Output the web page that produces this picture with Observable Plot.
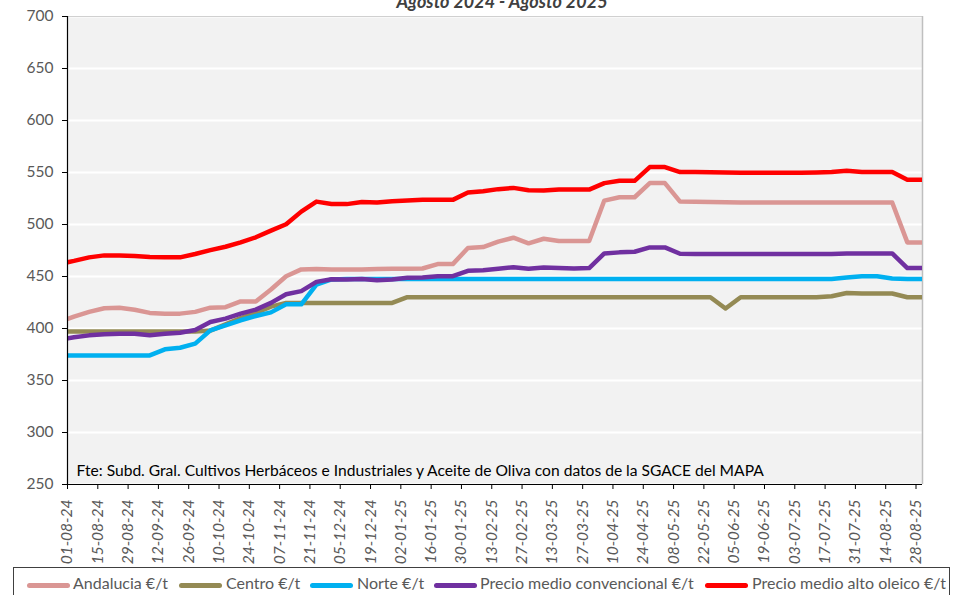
<!DOCTYPE html>
<html><head><meta charset="utf-8">
<script src="https://cdn.jsdelivr.net/npm/d3@7"></script>
<script src="https://cdn.jsdelivr.net/npm/@observablehq/plot@0.6"></script>
<style>
body{margin:0;background:#fff;width:970px;height:595px;overflow:hidden;position:relative;font-family:Lato,"Noto Sans",sans-serif;}
#title{position:absolute;top:-10px;left:0;width:1004px;text-align:center;font-weight:bold;font-style:italic;font-size:18px;color:#404040;}
#chart{position:absolute;top:0;left:0;}
#legend{position:absolute;left:13px;top:567px;width:937px;height:40px;border:1px solid #404040;box-sizing:border-box;}
.sw{position:absolute;top:15px;width:43px;height:5px;border-radius:3px;}
.lt{position:absolute;top:5px;font-size:16px;color:#595959;white-space:nowrap;}
#chart svg g[aria-label="x-axis tick label"], #chart svg g[aria-label="x-axis tick label"] text{font-style:italic;}
</style></head>
<body>
<div id="title">Agosto 2024 - Agosto 2025</div>
<div id="chart"></div>
<div id="legend"></div>
<script>
// Weekly observation dates (Sundays) 28-07-24 .. 31-08-25
const weeks = d3.utcSunday.range(new Date(Date.UTC(2024, 6, 28)), new Date(Date.UTC(2025, 8, 1)));

const andalucia = [406, 411.5, 416, 419.5, 420, 418, 415, 414.3, 414.3, 416, 420, 420.5, 426, 426, 437.5, 450.3, 456.8, 457.1, 456.8, 456.8,
  456.8, 457.1, 457.4, 457.4, 457.7, 461.9, 461.9, 477.4, 478.3, 483.5, 487.3, 481.9, 486.3, 484.1, 484.1, 484.1, 523, 526.2, 526.2, 539.8,
  539.8, 522, 521.8, 521.6, 521.3, 521.1, 521.1, 521.1, 521.1, 521.1, 521.1, 521.1, 521.1, 521.1, 521.1, 521.1, 482.8, 482.8];
const centro = [397, 397, 397, 397, 397, 397, 397, 397, 397, 397, 398, 404, 410, 415, 421, 424.6, 424.6, 424.6, 424.6, 424.6,
  424.6, 424.6, 424.6, 430.1, 430.1, 430.1, 430.1, 430.1, 430.1, 430.1, 430.1, 430.1, 430.1, 430.1, 430.1, 430.1, 430.1, 430.1, 430.1, 430.1,
  430.1, 430.1, 430.1, 430.1, 419.2, 430.1, 430.1, 430.1, 430.1, 430.1, 430.1, 431, 434.2, 433.6, 433.6, 433.6, 430.1, 430.1];
const norte = [374.1, 374.1, 374.1, 374.1, 374.1, 374.1, 374.1, 380, 381.5, 385.4, 398.2, 403.1, 407.9, 412, 415.5, 423.3, 423.3, 442.3, 447.2, 447.5,
  447.5, 447.5, 447.5, 447.5, 447.5, 447.5, 447.5, 447.5, 447.5, 447.5, 447.5, 447.5, 447.5, 447.5, 447.5, 447.5, 447.5, 447.5, 447.5, 447.5,
  447.5, 447.5, 447.5, 447.5, 447.5, 447.5, 447.5, 447.5, 447.5, 447.5, 447.5, 447.5, 449, 450.3, 450.3, 448, 447.5, 447.5];
const convencional = [389, 391.5, 393.4, 394.4, 395, 395, 393.5, 395, 396, 398.6, 406.2, 409.5, 414.3, 418.2, 424.6, 433, 435.9, 444.8, 447.4, 447.2,
  447.5, 446.5, 447.2, 448.7, 449.1, 450.3, 450.3, 455.5, 456.1, 457.4, 459, 457.4, 458.7, 458.1, 457.8, 458.1, 472.2, 473.2, 473.8, 478,
  478, 471.9, 471.6, 471.6, 471.6, 471.6, 471.6, 471.6, 471.6, 471.6, 471.6, 471.6, 472.2, 472.2, 472.2, 472.2, 458.1, 458.1];
const altoOleico = [462, 465, 468.4, 470.3, 470.3, 469.6, 468.7, 468.4, 468.4, 471.6, 475.4, 478.6, 482.8, 487.7, 494.1, 500.2, 512.4, 522, 519.8, 519.6,
  521.7, 521.1, 522.4, 523, 523.7, 523.7, 523.7, 530.7, 532, 534, 535.2, 533, 532.7, 533.6, 533.6, 533.6, 539.8, 542, 542, 555.2,
  555.2, 550.4, 550.4, 550.2, 550, 549.8, 549.8, 549.8, 549.8, 549.8, 550, 550.5, 551.6, 550.4, 550.4, 550.4, 543, 543];

const seriesNames = ["Andalucia €/t", "Centro €/t", "Norte €/t", "Precio medio convencional €/t", "Precio medio alto oleico €/t"];
const seriesColors = ["#DA9694", "#948A54", "#00B0F0", "#7030A0", "#FF0000"];
const seriesValues = [andalucia, centro, norte, convencional, altoOleico];

const xTickLabels = ["01-08-24","15-08-24","29-08-24","12-09-24","26-09-24","10-10-24","24-10-24","07-11-24","21-11-24","05-12-24",
  "19-12-24","02-01-25","16-01-25","30-01-25","13-02-25","27-02-25","13-03-25","27-03-25","10-04-25","24-04-25","08-05-25","22-05-25",
  "05-06-25","19-06-25","03-07-25","17-07-25","31-07-25","14-08-25","28-08-25"];
const yTicks = [250, 300, 350, 400, 450, 500, 550, 600, 650, 700];
const caption = "Fte: Subd. Gral. Cultivos Herbáceos e Industriales y Aceite de Oliva con datos de la SGACE del MAPA";

const parse = d3.utcParse("%d-%m-%y");
const xTicks = xTickLabels.map(parse);
const xStart = parse("01-08-24"), xEnd = parse("31-08-25");

const lineMarks = seriesValues.map((vals, s) =>
  Plot.line(vals, {x: (d, i) => weeks[i], y: d => d, stroke: seriesColors[s], strokeWidth: 4.5,
    strokeLinejoin: "round", strokeLinecap: "butt", clip: true}));

const chart = Plot.plot({
  width: 970, height: 567,
  marginLeft: 67, marginRight: 48, marginTop: 16, marginBottom: 83,
  style: {fontFamily: "Lato, 'Noto Sans', sans-serif", fontSize: "15.5px", background: "transparent", overflow: "visible"},
  x: {type: "utc", domain: [xStart, xEnd], label: null},
  y: {domain: [250, 700], label: null},
  marks: [
    Plot.frame({fill: "#f2f2f2", stroke: null}),
    Plot.gridY(yTicks, {stroke: "white", strokeOpacity: 1, strokeWidth: 2}),
    Plot.ruleY([700], {stroke: "#d0d0d0", strokeWidth: 1}),
    Plot.ruleX([xEnd], {stroke: "#bfbfbf", strokeWidth: 1.5}),
    Plot.text([caption], {frameAnchor: "bottom-left", dx: 9, dy: -9, fill: "#000", fontSize: 15.6}),
    ...lineMarks,
    Plot.ruleX([xStart], {stroke: "black", strokeWidth: 1.2}),
    Plot.ruleY([250], {stroke: "black", strokeWidth: 1.2}),
    Plot.axisY({ticks: yTicks, tickSize: 5, tickPadding: 9, stroke: "black", fill: "#595959", label: null}),
    Plot.axisX({ticks: xTicks, tickFormat: d3.utcFormat("%d-%m-%y"), tickRotate: -90, tickSize: 5, tickPadding: 10,
      stroke: "black", fill: "#595959", fontStyle: "italic", label: null})
  ]
});
document.getElementById("chart").appendChild(chart);

// Legend
const legendPos = [[27, 73], [179, 226], [310, 357], [434, 480], [705, 752]];
const legend = document.getElementById("legend");
seriesNames.forEach((name, s) => {
  const sw = document.createElement("div");
  sw.className = "sw"; sw.style.left = (legendPos[s][0] - 14) + "px"; sw.style.background = seriesColors[s];
  const lt = document.createElement("div");
  lt.className = "lt"; lt.style.left = (legendPos[s][1] - 14) + "px"; lt.textContent = name;
  legend.appendChild(sw); legend.appendChild(lt);
});
</script>
</body></html>
